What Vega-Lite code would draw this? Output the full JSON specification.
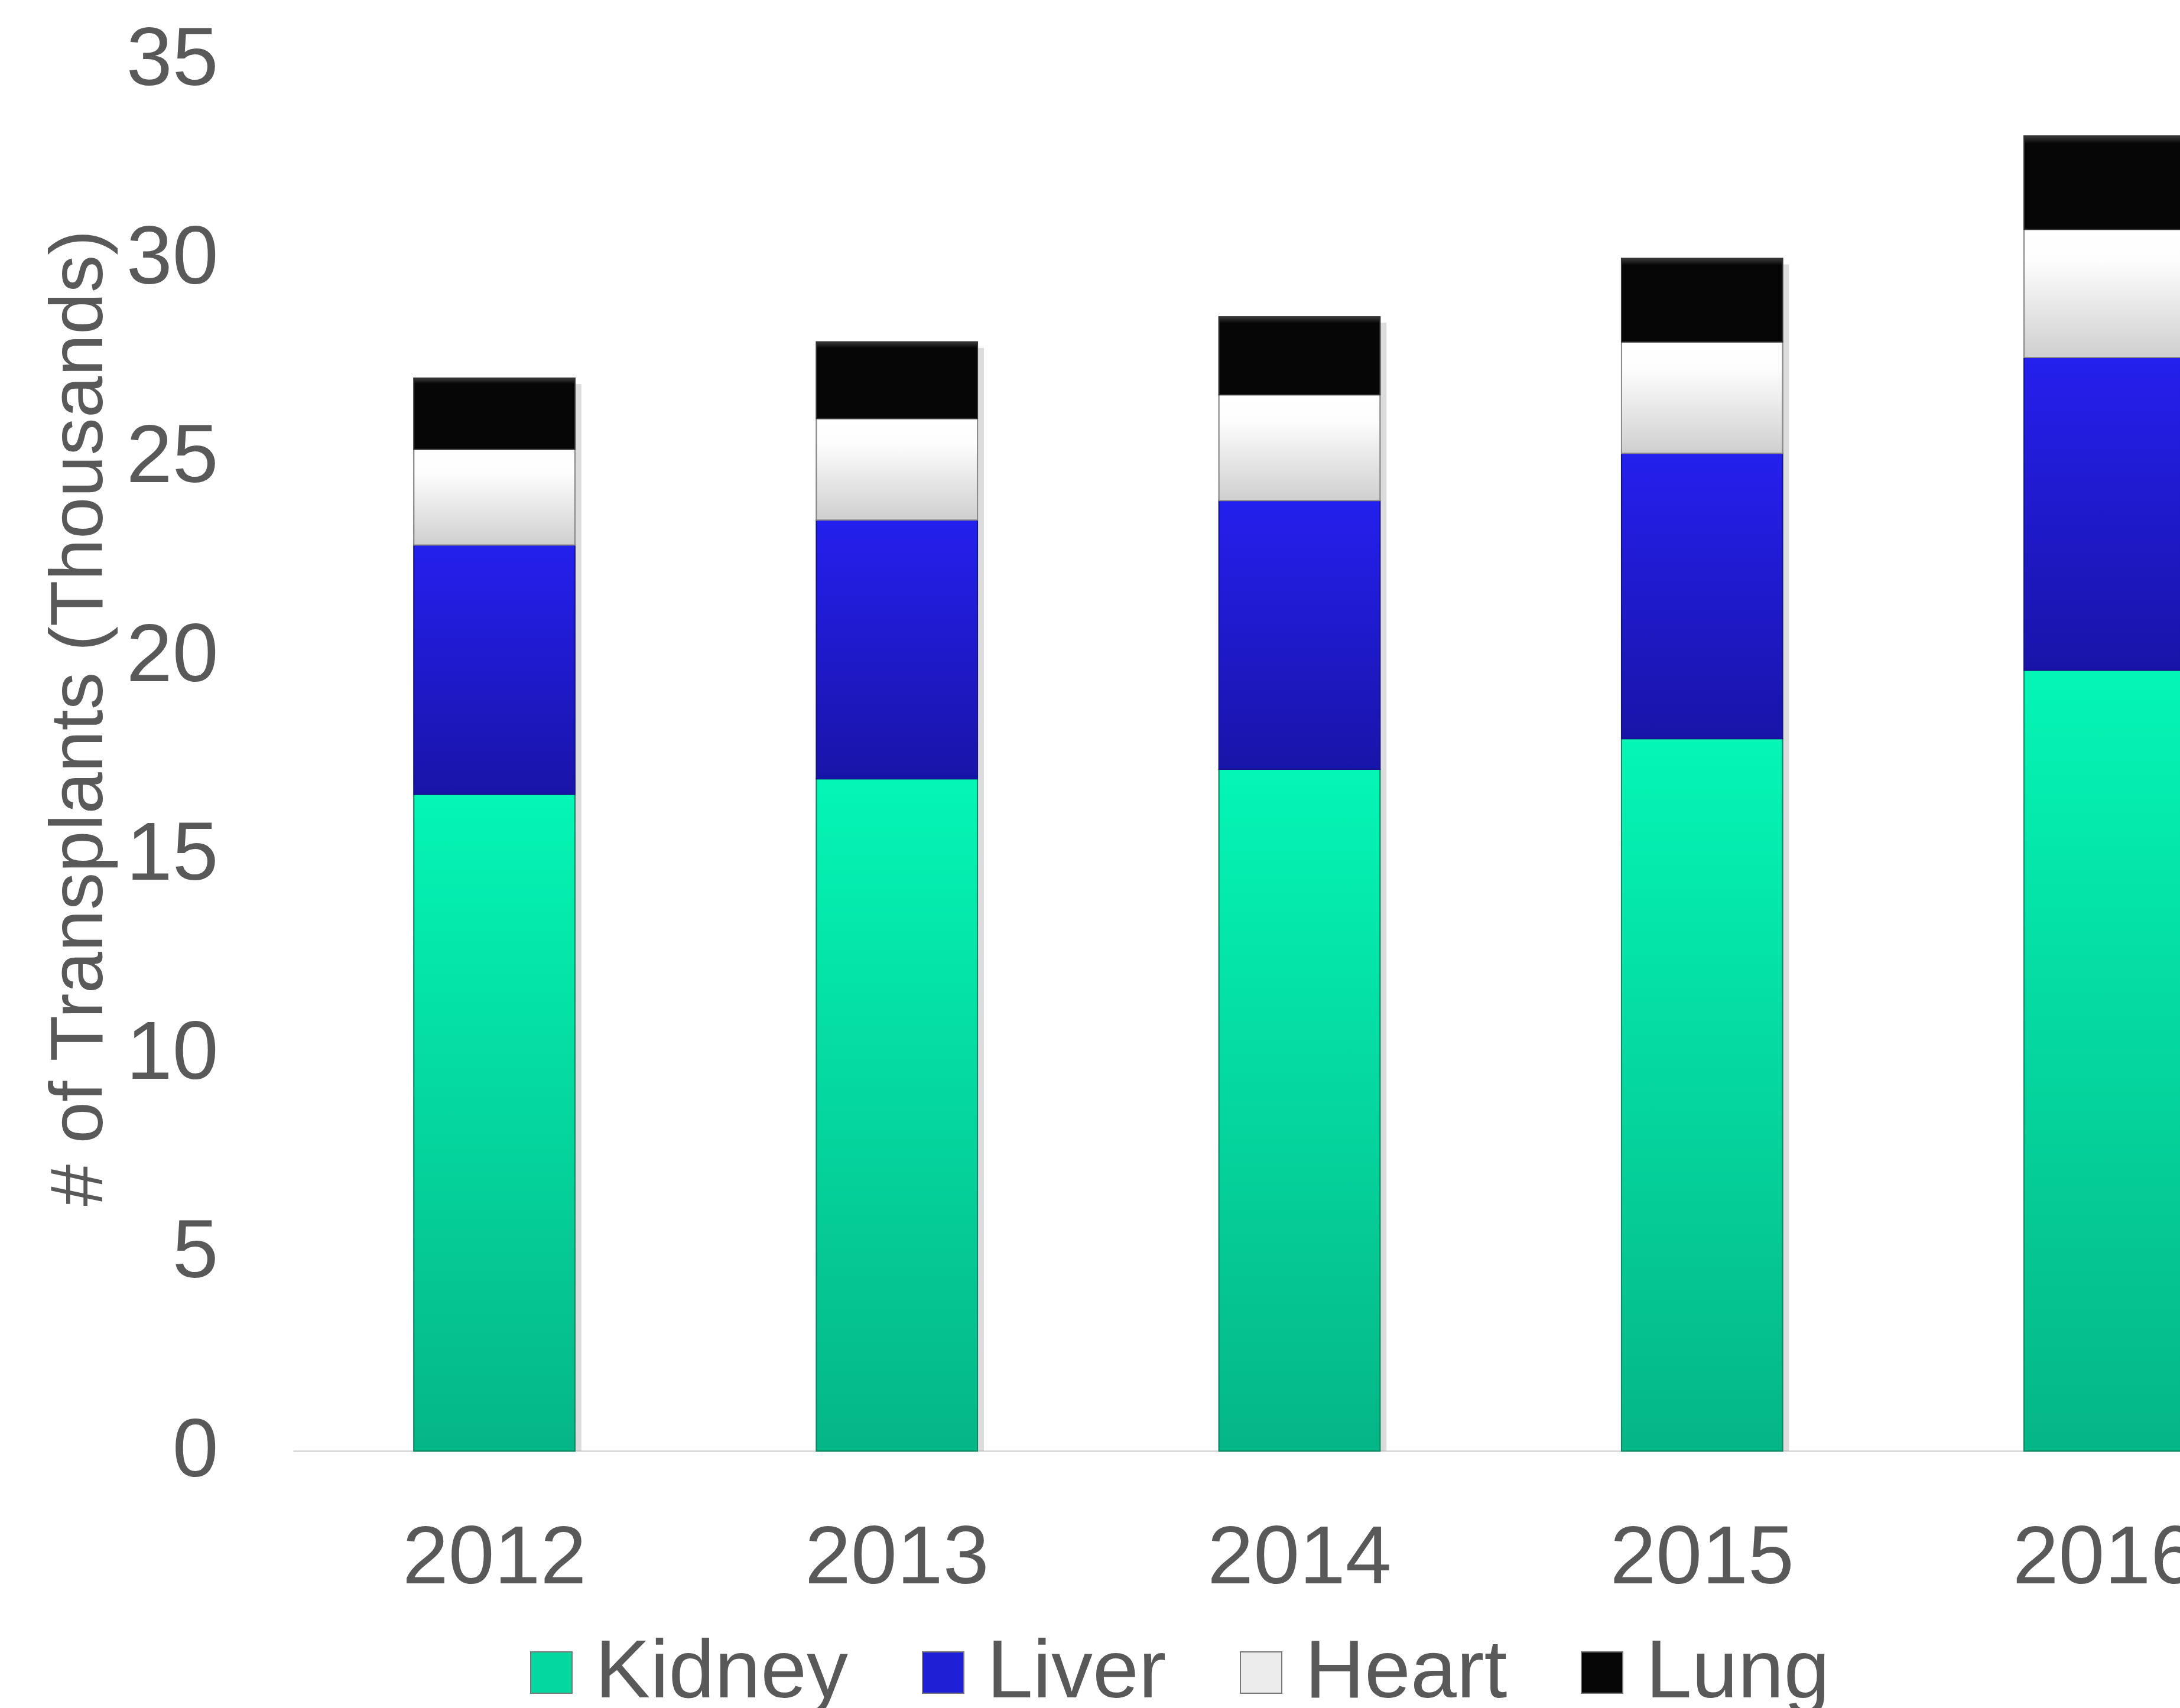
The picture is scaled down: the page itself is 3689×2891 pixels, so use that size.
{
  "$schema": "https://vega.github.io/schema/vega-lite/v6.json",
  "autosize": {"type": "none"},
  "padding": {"left": 496, "top": 101, "right": 0, "bottom": 435},
  "width": 3406,
  "height": 2355,
  "background": "#ffffff",
  "config": {
    "view": {"stroke": null},
    "font": "Liberation Sans"
  },
  "data": {
    "values": [
      {"year": "2012", "organ": "Kidney", "order": 1, "value": 16.52},
      {"year": "2012", "organ": "Liver", "order": 2, "value": 6.27},
      {"year": "2012", "organ": "Heart", "order": 3, "value": 2.41},
      {"year": "2012", "organ": "Lung", "order": 4, "value": 1.79},
      {"year": "2013", "organ": "Kidney", "order": 1, "value": 16.91},
      {"year": "2013", "organ": "Liver", "order": 2, "value": 6.51},
      {"year": "2013", "organ": "Heart", "order": 3, "value": 2.55},
      {"year": "2013", "organ": "Lung", "order": 4, "value": 1.93},
      {"year": "2014", "organ": "Kidney", "order": 1, "value": 17.15},
      {"year": "2014", "organ": "Liver", "order": 2, "value": 6.76},
      {"year": "2014", "organ": "Heart", "order": 3, "value": 2.66},
      {"year": "2014", "organ": "Lung", "order": 4, "value": 1.96},
      {"year": "2015", "organ": "Kidney", "order": 1, "value": 17.92},
      {"year": "2015", "organ": "Liver", "order": 2, "value": 7.18},
      {"year": "2015", "organ": "Heart", "order": 3, "value": 2.8},
      {"year": "2015", "organ": "Lung", "order": 4, "value": 2.1},
      {"year": "2016", "organ": "Kidney", "order": 1, "value": 19.64},
      {"year": "2016", "organ": "Liver", "order": 2, "value": 7.87},
      {"year": "2016", "organ": "Heart", "order": 3, "value": 3.22},
      {"year": "2016", "organ": "Lung", "order": 4, "value": 2.35}
    ]
  },
  "transform": [
    {"stack": "value", "groupby": ["year"], "sort": [{"field": "order", "order": "ascending"}], "as": ["y0", "y1"]}
  ],
  "encoding": {
    "x": {
      "field": "year", "type": "nominal",
      "scale": {"paddingInner": 0.6, "paddingOuter": 0.3},
      "axis": {
        "title": null, "labelAngle": 0, "ticks": false,
        "domainColor": "#d9d9d9", "domainWidth": 3,
        "labelFontSize": 140, "labelColor": "#595959", "labelPadding": 112,
        "labelFont": "Liberation Sans", "labelLimit": 2000
      }
    },
    "y": {
      "field": "y1", "type": "quantitative",
      "scale": {"domain": [0, 35], "nice": false},
      "axis": {
        "title": "# of Transplants (Thousands)",
        "values": [0, 5, 10, 15, 20, 25, 30, 35],
        "grid": false, "domain": false, "ticks": false,
        "labelFontSize": 140, "labelColor": "#595959", "labelPadding": 127,
        "labelFont": "Liberation Sans",
        "titleFontSize": 127, "titleColor": "#595959", "titleFontWeight": "normal",
        "titleFont": "Liberation Sans",
        "titleAngle": -90, "titleX": -362, "titleY": 1114,
        "titleAlign": "center", "titleBaseline": "middle"
      }
    },
    "y2": {"field": "y0"}
  },
  "layer": [
    {
      "transform": [{"filter": "datum.organ === 'Lung'"}],
      "mark": {"type": "bar", "color": "#9a9a9a", "opacity": 0.35, "xOffset": 11, "yOffset": 10, "y2Offset": 0},
      "encoding": {"y2": {"datum": 0}}
    },
    {
      "mark": {"type": "bar", "stroke": "#666666", "strokeWidth": 2},
      "encoding": {
        "color": {
          "field": "organ", "type": "nominal",
          "scale": {"domain": ["Kidney", "Liver", "Heart", "Lung"], "range": ["#04d8a0", "#1f1fd6", "#ececec", "#060606"]},
          "legend": {
            "title": null, "orient": "none", "direction": "horizontal", "columns": 4,
            "legendX": 367, "legendY": 2660,
            "symbolType": "square", "symbolSize": 4900,
            "symbolStrokeColor": "#777777", "symbolStrokeWidth": 2,
            "labelFontSize": 140, "labelColor": "#595959", "labelFont": "Liberation Sans",
            "labelOffset": 4, "columnPadding": 90, "labelLimit": 1000
          }
        }
      }
    },
    {
      "transform": [{"filter": "datum.organ === 'Kidney'"}],
      "mark": {"type": "bar", "stroke": "#078a64", "strokeWidth": 2,
        "color": {"gradient": "linear", "x1": 0, "y1": 0, "x2": 0, "y2": 1,
          "stops": [{"offset": 0, "color": "#04f6b6"}, {"offset": 1, "color": "#05b687"}]}}
    },
    {
      "transform": [{"filter": "datum.organ === 'Liver'"}],
      "mark": {"type": "bar", "stroke": "#14148a", "strokeWidth": 2,
        "color": {"gradient": "linear", "x1": 0, "y1": 0, "x2": 0, "y2": 1,
          "stops": [{"offset": 0, "color": "#2420ee"}, {"offset": 1, "color": "#1914a8"}]}}
    },
    {
      "transform": [{"filter": "datum.organ === 'Heart'"}],
      "mark": {"type": "bar", "stroke": "#8a8a8a", "strokeWidth": 2,
        "color": {"gradient": "linear", "x1": 0, "y1": 0, "x2": 0, "y2": 1,
          "stops": [{"offset": 0, "color": "#ffffff"}, {"offset": 0.25, "color": "#fdfdfd"}, {"offset": 1, "color": "#cfcfcf"}]}}
    },
    {
      "transform": [{"filter": "datum.organ === 'Lung'"}],
      "mark": {"type": "bar", "stroke": "#333333", "strokeWidth": 2,
        "color": {"gradient": "linear", "x1": 0, "y1": 0, "x2": 0, "y2": 1,
          "stops": [{"offset": 0, "color": "#3a3a3a"}, {"offset": 0.08, "color": "#060606"}, {"offset": 1, "color": "#060606"}]}}
    }
  ]
}
